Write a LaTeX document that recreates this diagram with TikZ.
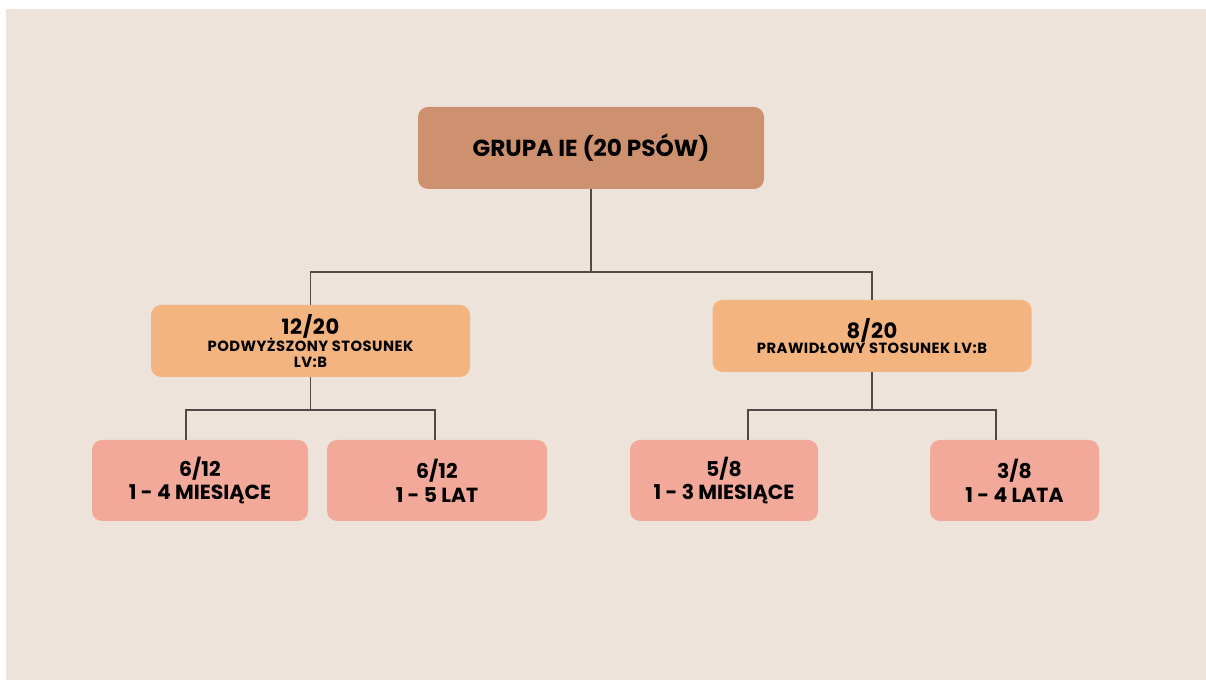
\documentclass[tikz,border=0pt]{standalone}
\usepackage{fontspec}
\setmainfont{Poppins}
\usepackage{tikz}
\usepackage{xcolor}
\usetikzlibrary{positioning}
\definecolor{paper}{HTML}{EEE3DA}
\definecolor{rootfill}{HTML}{CD9170}
\definecolor{midfill}{HTML}{F3B47F}
\definecolor{leaffill}{HTML}{F2A99A}
\definecolor{linkgray}{HTML}{4F4A47}

\newcommand{\bignum}{\fontsize{15}{17}\selectfont}
\newcommand{\smalltxt}{\fontsize{10.5}{11.5}\selectfont\addfontfeatures{LetterSpace=3}}
\newcommand{\leaftxt}{\fontsize{14.5}{17}\selectfont}

\tikzset{
  box/.style={rounded corners=0.25cm, align=center, inner sep=0pt},
  rootbox/.style={box, fill=rootfill, minimum width=8.65cm, minimum height=2.05cm,
    font=\bfseries\fontsize{16.5}{18}\selectfont},
  midbox/.style={box, fill=midfill, minimum width=7.975cm, minimum height=1.8cm,
    font=\bfseries\smalltxt},
  leafbox/.style={box, fill=leaffill, minimum height=2.025cm, font=\bfseries\leaftxt},
  link/.style={draw=linkgray, line width=0.9pt}
}

\begin{document}
\begin{tikzpicture}
     \fill[white] (0,0) rectangle (30.15,17); % page
     \fill[paper] (0.15,0) rectangle (30.15,16.775);
     \useasboundingbox (0,0) rectangle (30.15,17);

     \node[rootbox] (grupa) at (14.775,13.3) {GRUPA IE (20 PSÓW)};

     \node[midbox] (podw) at (7.7625,8.475)
     {\bignum 12/20\\[-1pt] PODWYŻSZONY STOSUNEK\\ LV:B};
     \node[midbox] (praw) at (21.8,8.6)
     {\bignum 8/20\\[-1pt] PRAWIDŁOWY STOSUNEK LV:B};

     \node[leafbox, minimum width=5.4cm] (mies4) at (5.0,4.9875) {6/12\\ 1 - 4 MIESIĄCE};
     \node[leafbox, minimum width=5.5cm] (lat5) at (10.925,4.9875) {6/12\\ 1 - 5 LAT};
     \node[leafbox, minimum width=4.7cm] (mies3) at (18.1,4.9875) {5/8\\ 1 - 3 MIESIĄCE};
     \node[leafbox, minimum width=4.225cm] (lata4) at (25.3625,4.9875) {3/8\\ 1 - 4 LATA};

     % connectors
     \coordinate (split0) at (grupa.south |- 0,10.2);
     \coordinate (split1) at (podw.south |- 0,6.75);
     \coordinate (split2) at (praw.south |- 0,6.75);
     \draw[link] (grupa.south) -- (split0);
     \draw[link] (podw.north) |- (split0) -| (praw.north);
     \draw[link] (podw.south) -- (split1);
     \draw[link] ([xshift=-0.35cm]mies4.north) |- (split1) -| ([xshift=-0.05cm]lat5.north);
     \draw[link] (praw.south) -- (split2);
     \draw[link] ([xshift=0.6cm]mies3.north) |- (split2) -| ([xshift=-0.4625cm]lata4.north);
\end{tikzpicture}
\end{document}
